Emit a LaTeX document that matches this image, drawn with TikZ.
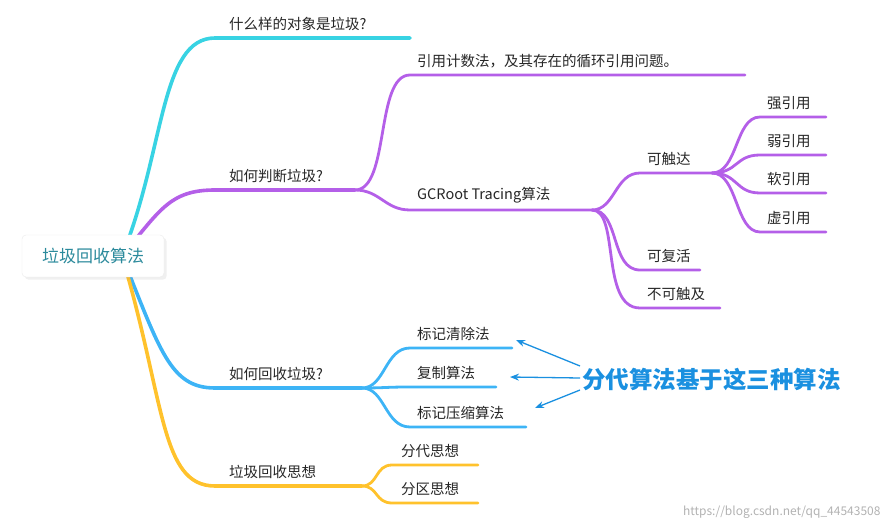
\documentclass[tikz,border=0pt]{standalone}
\usepackage{fontspec}
\setmainfont{Noto Sans CJK SC}
\usetikzlibrary{arrows.meta,shadows}
\definecolor{cy}{HTML}{38D3E3}
\definecolor{pu}{HTML}{B45FE8}
\definecolor{bl}{HTML}{3DB4F6}
\definecolor{ye}{HTML}{FFC22C}
\definecolor{ann}{HTML}{1A90E0}
\definecolor{rt}{HTML}{2B8A9C}
\tikzset{
 lbl/.style={anchor=south west,inner sep=1pt,yshift=4pt,font=\fontsize{14.5}{16}\selectfont,text=black!85},
 br/.style={line width=3.6pt,line cap=round},
 sb/.style={line width=2.8pt,line cap=round},
 ar/.style={ann,line width=1.3pt,-{Stealth[length=9pt,width=7pt]}}
}
\begin{document}
\begin{tikzpicture}[x=1pt,y=-1pt]
\useasboundingbox (0,0) rectangle (891,529);
\coordinate (r) at (122,256);
\coordinate (c1) at (215,38); \coordinate (e1) at (410,38);
\coordinate (c2) at (215,190); \coordinate (e2) at (355,190);
\coordinate (c3) at (215,388); \coordinate (e3) at (362,388);
\coordinate (c4) at (215,486); \coordinate (e4) at (362,486);
\draw[br,cy] (r) .. controls (165,150) and (160,38) .. (c1) -- (e1);
\draw[br,pu] (r) .. controls (160,210) and (170,190) .. (c2) -- (e2);
\draw[br,bl] (r) .. controls (160,350) and (170,388) .. (c3) -- (e3);
\draw[br,ye] (r) .. controls (165,400) and (160,486) .. (c4) -- (e4);
\node[draw=black!8,fill=white,rounded corners=4pt,minimum width=142pt,minimum height=42pt,text=rt,font=\fontsize{17}{19}\selectfont,drop shadow={opacity=0.12}] (root) at (93,256) {垃圾回收算法};
\node[lbl] (t1) at (228,36) {什么样的对象是垃圾?};
\node[lbl] (t2) at (228,188) {如何判断垃圾?};
\node[lbl] (t3) at (228,386) {如何回收垃圾?};
\node[lbl] (t4) at (228,484) {垃圾回收思想};
\coordinate (p1) at (410,75); \coordinate (p1e) at (745,75);
\coordinate (p2) at (410,210); \coordinate (p2e) at (592,210);
\draw[sb,pu] (e2) .. controls (390,190) and (375,75) .. (p1) -- (p1e);
\draw[sb,pu] (e2) .. controls (380,190) and (385,210) .. (p2) -- (p2e);
\node[lbl] at (416,73) {引用计数法，及其存在的循环引用问题。};
\node[lbl] at (416,208) {GCRoot Tracing算法};
\coordinate (q1) at (640,173); \coordinate (q1e) at (712,173);
\coordinate (q2) at (640,270); \coordinate (q2e) at (700,270);
\coordinate (q3) at (640,308); \coordinate (q3e) at (720,308);
\draw[sb,pu] (p2e) .. controls (615,210) and (615,173) .. (q1) -- (q1e);
\draw[sb,pu] (p2e) .. controls (620,210) and (610,270) .. (q2) -- (q2e);
\draw[sb,pu] (p2e) .. controls (620,210) and (600,308) .. (q3) -- (q3e);
\node[lbl] at (646,171) {可触达};
\node[lbl] at (646,268) {可复活};
\node[lbl] at (646,306) {不可触及};
\foreach \y/\t in {117/强引用,155/弱引用,193/软引用,232/虚引用}{
 \coordinate (s\y) at (760,\y);
 \draw[sb,pu] (q1e) .. controls (738,173) and (735,\y) .. (s\y) -- (826,\y);
 \node[lbl] at (766,\y-2) {\t};
}
\foreach \y/\e/\t in {348/512/标记清除法,387/496/复制算法,427/526/标记压缩算法}{
 \coordinate (b\y) at (410,\y);
 \draw[sb,bl] (e3) .. controls (385,388) and (385,\y) .. (b\y) -- (\e,\y);
 \node[lbl] at (416,\y-2) {\t};
}
\foreach \y/\t in {465/分代思想,503/分区思想}{
 \coordinate (y\y) at (392,\y);
 \draw[sb,ye] (e4) .. controls (378,486) and (375,\y) .. (y\y) -- (478,\y);
 \node[lbl] at (400,\y-2) {\t};
}
\node[text=ann,font=\bfseries\fontsize{23.5}{25}\selectfont,anchor=west,inner sep=1pt] (an) at (581,379) {分代算法基于这三种算法};
\coordinate (a1) at (516,340); \coordinate (a2) at (510,377); \coordinate (a3) at (535,408);
\draw[ar] (580,366) -- (a1);
\draw[ar] (580,378) -- (a2);
\draw[ar] (580,390) -- (a3);
\node[text=black!30,font=\fontsize{12}{13}\selectfont,anchor=east] (wm) at (884,512) {https://blog.csdn.net/qq\_44543508};
\end{tikzpicture}
\end{document}
